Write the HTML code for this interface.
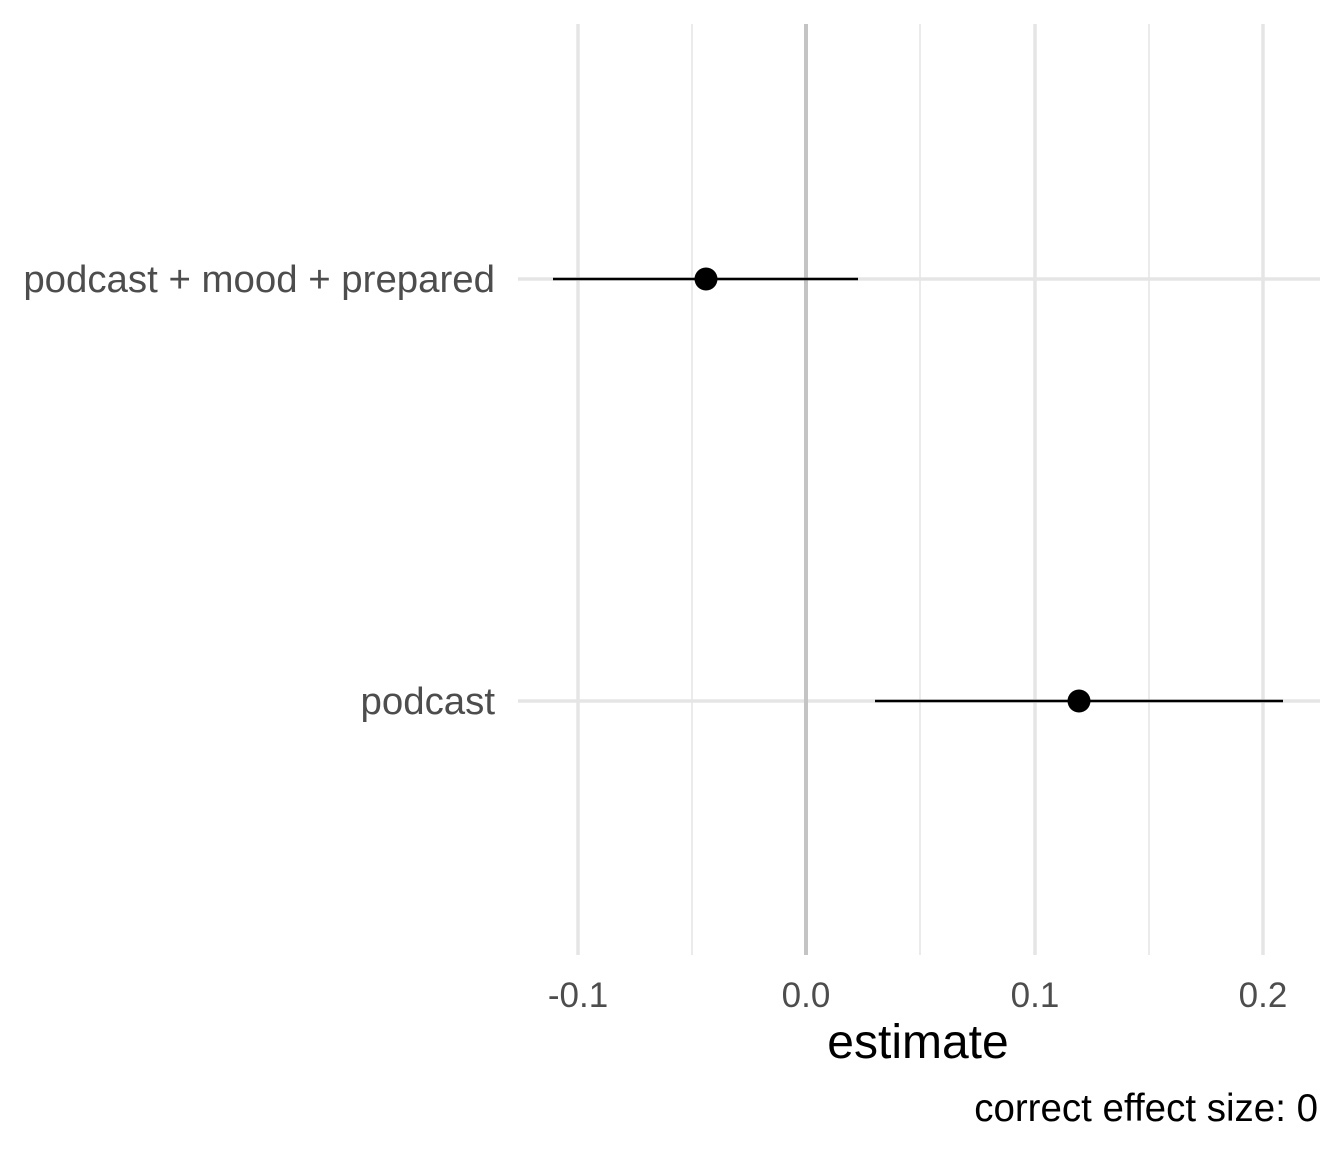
<!DOCTYPE html>
<html><head><meta charset="utf-8"><style>body{margin:0;background:#fff}</style></head>
<body>
<svg width="1344" height="1152" xmlns="http://www.w3.org/2000/svg" font-family="Liberation Sans, Arial, sans-serif">
<rect width="1344" height="1152" fill="#fff"/>
<g stroke="#ebebeb" stroke-width="2">
<line x1="692" y1="24" x2="692" y2="955"/>
<line x1="920" y1="24" x2="920" y2="955"/>
<line x1="1149" y1="24" x2="1149" y2="955"/>
</g>
<g stroke="#e5e5e5" stroke-width="3.5">
<line x1="578" y1="24" x2="578" y2="955"/>
<line x1="1035" y1="24" x2="1035" y2="955"/>
<line x1="1263" y1="24" x2="1263" y2="955"/>
<line x1="518" y1="279" x2="1320" y2="279"/>
<line x1="518" y1="701" x2="1320" y2="701"/>
</g>
<line x1="806" y1="24" x2="806" y2="955" stroke="#c4c4c4" stroke-width="4"/>
<g stroke="#000" stroke-width="2.5">
<line x1="553" y1="279" x2="858" y2="279"/>
<line x1="875" y1="701" x2="1283" y2="701"/>
</g>
<circle cx="706" cy="279" r="11.5" fill="#000"/>
<circle cx="1079" cy="701" r="11.5" fill="#000"/>
<g fill="#4d4d4d" font-size="38.4" text-anchor="end">
<text x="495" y="292">podcast + mood + prepared</text>
<text x="495" y="714">podcast</text>
</g>
<g fill="#4d4d4d" font-size="35" text-anchor="middle">
<text x="578" y="1007">-0.1</text>
<text x="806" y="1007">0.0</text>
<text x="1035" y="1007">0.1</text>
<text x="1263" y="1007">0.2</text>
</g>
<text x="918" y="1058" font-size="48" text-anchor="middle" fill="#000">estimate</text>
<text x="1318" y="1121" font-size="38.5" text-anchor="end" fill="#000">correct effect size: 0</text>
</svg>
</body></html>
